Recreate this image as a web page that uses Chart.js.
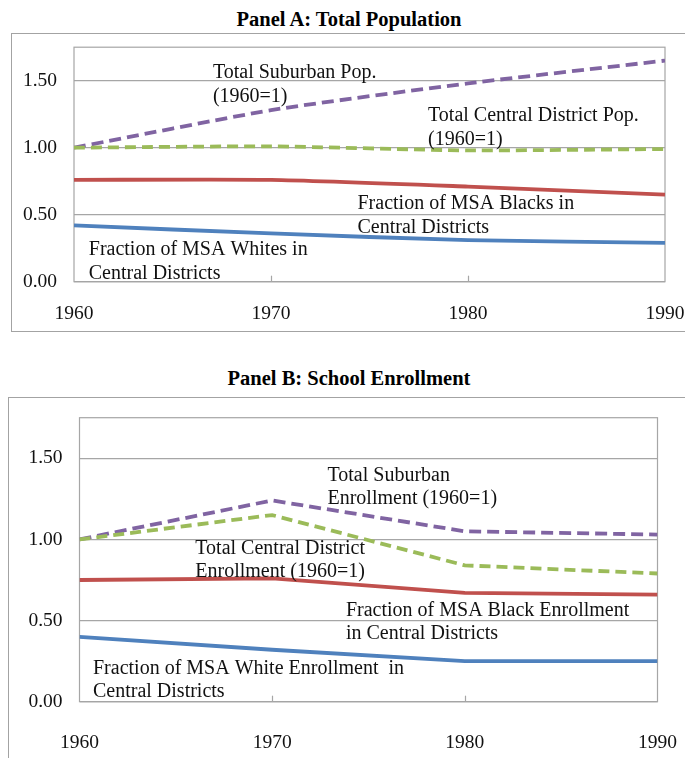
<!DOCTYPE html>
<html lang="en">
<head>
  <meta charset="UTF-8" />
  <title>Panel A / Panel B</title>
  <script src="https://cdn.jsdelivr.net/npm/chart.js"></script>
  <style>
    html, body { margin: 0; padding: 0; background: #fff; overflow: hidden; }
    body { width: 685px; height: 758px; position: relative; font-family: "Liberation Serif", "Times New Roman", serif; }
    .title { position: absolute; left: 0; width: 698px; text-align: center; font-weight: bold; font-size: 20.5px; line-height: 20px; color: #000; }
    .box { position: absolute; border: 1.5px solid #a3a3a3; width: 700px; }
    canvas { position: absolute; left: 0; }
  </style>
</head>
<body>

<div class="title" style="top: 8.5px;">Panel A: Total Population</div>
<div class="box" style="left: 11px; top: 33px; height: 297px;"></div>
<canvas id="chartA" width="685" height="298" style="top: 34px;"></canvas>

<div class="title" style="top: 368px;">Panel B: School Enrollment</div>
<div class="box" style="left: 8px; top: 397px; height: 400px;"></div>
<canvas id="chartB" width="685" height="360" style="top: 398px;"></canvas>

<script>
  const years = [1960, 1970, 1980, 1990];
  const yTicks = [0, 0.5, 1.0, 1.5];

  // Panel A: total population
  const popSuburban = [1.00, 1.28, 1.48, 1.65];
  const popCentral  = [1.00, 1.01, 0.98, 0.99];
  const popBlacks   = [0.76, 0.76, 0.71, 0.65];
  const popWhites   = [0.42, 0.36, 0.31, 0.29];

  const popNotes = [
    ["Total Suburban Pop.", "(1960=1)"],
    ["Total Central District Pop.", "(1960=1)"],
    ["Fraction of MSA Blacks in", "Central Districts"],
    ["Fraction of MSA Whites in", "Central Districts"]
  ];
  const popNoteX = [1967.05, 1977.97, 1974.39, 1960.75];
  const popNoteY = [1.56, 1.237, 0.585, 0.237];

  // Panel B: school enrollment
  const enrSuburban = [1.00, 1.24, 1.05, 1.03];
  const enrCentral  = [1.00, 1.15, 0.84, 0.79];
  const enrBlacks   = [0.75, 0.76, 0.67, 0.66];
  const enrWhites   = [0.40, 0.32, 0.25, 0.25];

  const enrNotes = [
    ["Total Suburban", "Enrollment (1960=1)"],
    ["Total Central District", "Enrollment (1960=1)"],
    ["Fraction of MSA Black Enrollment", "in Central Districts"],
    ["Fraction of MSA White Enrollment  in", "Central Districts"]
  ];
  const enrNoteX = [1972.87, 1966.01, 1973.83, 1960.70];
  const enrNoteY = [1.393, 0.941, 0.561, 0.206];

  const SERIF = '"Liberation Serif", "Times New Roman", serif';
  const GRID = "#a6a6a6";

  function makeExtras(notes, noteX, noteY, lineGap) {
    return {
      id: "extras",
      beforeDatasetsDraw(chart) {
        const { ctx, chartArea: a, scales } = chart;
        ctx.save();
        ctx.strokeStyle = GRID;
        ctx.lineWidth = 1.2;
        ctx.strokeRect(a.left, a.top, a.right - a.left, a.bottom - a.top);
        // small inside tick marks on the year axis
        [1970, 1980].forEach(v => {
          const x = Math.round(scales.x.getPixelForValue(v)) + 0.5;
          ctx.beginPath();
          ctx.moveTo(x, a.bottom);
          ctx.lineTo(x, a.bottom - 6);
          ctx.stroke();
        });
        ctx.restore();
      },
      afterDatasetsDraw(chart) {
        const { ctx, scales } = chart;
        ctx.save();
        ctx.fillStyle = "#111";
        ctx.font = "20px " + SERIF;
        ctx.textAlign = "left";
        ctx.textBaseline = "middle";
        notes.forEach((lines, i) => {
          const x = scales.x.getPixelForValue(noteX[i]);
          const y = scales.y.getPixelForValue(noteY[i]);
          lines.forEach((t, j) => ctx.fillText(t, x, y + j * lineGap));
        });
        ctx.restore();
      }
    };
  }

  function series(values, color, dash, tension) {
    return {
      data: years.map((yr, i) => ({ x: yr, y: values[i] })),
      borderColor: color,
      borderWidth: 3.8,
      borderDash: dash,
      borderCapStyle: "butt",
      pointRadius: 0,
      fill: false,
      tension: tension
    };
  }

  function drawPanel(id, vals, notes, noteX, noteY, geo) {
    new Chart(document.getElementById(id), {
      type: "line",
      data: {
        datasets: [
          series(vals[3], "#4F81BD", [], geo.tension),
          series(vals[2], "#C0504D", [], geo.tension),
          series(vals[1], "#9BBB59", [11, 6], geo.tension),
          series(vals[0], "#8064A2", [12, 6], geo.tension)
        ]
      },
      options: {
        responsive: false,
        animation: false,
        layout: { padding: { left: 0, right: geo.right, top: geo.top, bottom: 0 } },
        plugins: { legend: { display: false }, tooltip: { enabled: false } },
        scales: {
          x: {
            type: "linear",
            min: 1960,
            max: 1990,
            grid: { display: false },
            border: { display: false },
            ticks: {
              stepSize: 10,
              maxRotation: 0,
              padding: geo.xPad,
              color: "#111",
              font: { family: SERIF, size: 19.5 },
              callback: v => String(v)
            },
            afterFit: s => {
              s.height = geo.xHeight;
              s.paddingLeft = 0;
              s.paddingRight = 0;
            }
          },
          y: {
            min: 0,
            max: 1.75,
            grid: { color: GRID, lineWidth: 1.2, drawTicks: false },
            border: { display: false },
            ticks: {
              padding: 17,
              color: "#111",
              font: { family: SERIF, size: 19.5 },
              callback: v => v.toFixed(2)
            },
            afterBuildTicks: s => { s.ticks = yTicks.map(v => ({ value: v })); },
            afterFit: s => {
              s.width = geo.yWidth;
              s.paddingTop = 0;
              s.paddingBottom = 0;
            }
          }
        }
      },
      plugins: [makeExtras(notes, noteX, noteY, geo.lineGap)]
    });
  }

  drawPanel("chartA", [popSuburban, popCentral, popBlacks, popWhites], popNotes, popNoteX, popNoteY,
    { right: 20, top: 13.2, xHeight: 50.3, yWidth: 74, xPad: 12.5, lineGap: 24, tension: 0.2 });

  drawPanel("chartB", [enrSuburban, enrCentral, enrBlacks, enrWhites], enrNotes, enrNoteX, enrNoteY,
    { right: 27.5, top: 19.7, xHeight: 56.3, yWidth: 79.5, xPad: 21.5, lineGap: 23, tension: 0 });
</script>
</body>
</html>
